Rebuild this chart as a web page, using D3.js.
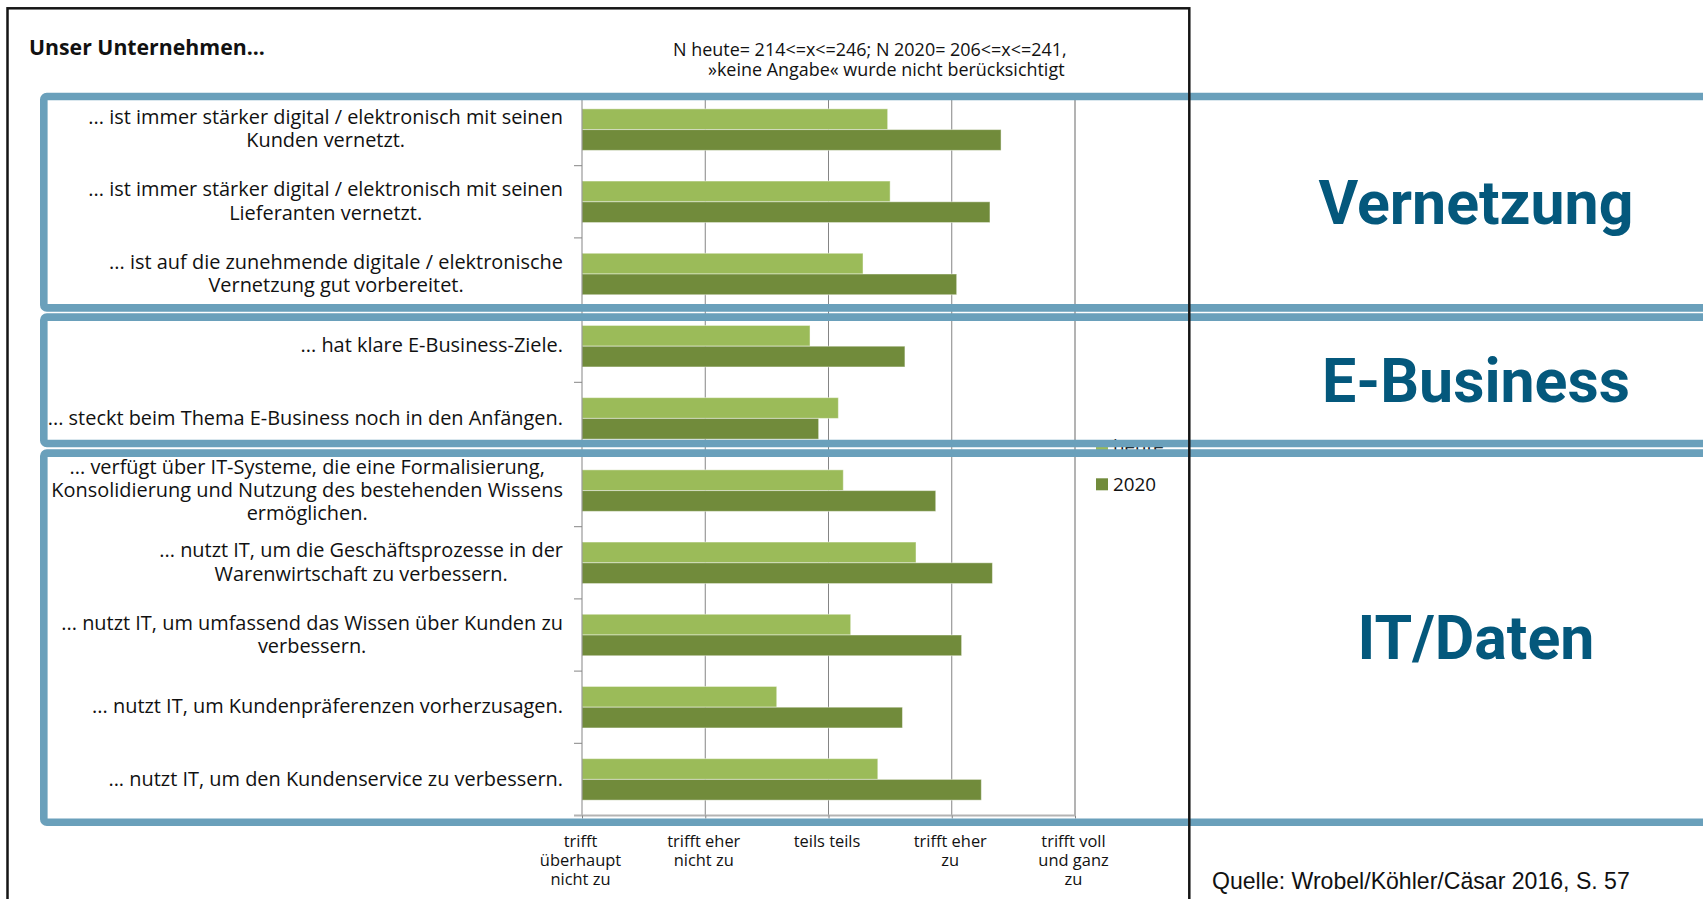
<!DOCTYPE html>
<html>
<head>
<meta charset="utf-8">
<script src="https://cdn.jsdelivr.net/npm/d3@7"></script>
<style>
  html, body { margin: 0; padding: 0; background: #fff; overflow: hidden; }
  svg { display: block; }
</style>
</head>
<body>
<svg id="chart" width="1703" height="899"></svg>
<script>
// statements (one per row, line breaks as in the original)
const statements = [
  '... ist immer stärker digital / elektronisch mit seinen\nKunden vernetzt.',
  '... ist immer stärker digital / elektronisch mit seinen\nLieferanten vernetzt.',
  '... ist auf die zunehmende digitale / elektronische\nVernetzung gut vorbereitet.',
  '... hat klare E-Business-Ziele.',
  '... steckt beim Thema E-Business noch in den Anfängen.',
  '... verfügt über IT-Systeme, die eine Formalisierung,\nKonsolidierung und Nutzung des bestehenden Wissens\nermöglichen.',
  '... nutzt IT, um die Geschäftsprozesse in der\nWarenwirtschaft zu verbessern.',
  '... nutzt IT, um umfassend das Wissen über Kunden zu\nverbessern.',
  '... nutzt IT, um Kundenpräferenzen vorherzusagen.',
  '... nutzt IT, um den Kundenservice zu verbessern.'
]
const valuesHeute = [3.48, 3.50, 3.28, 2.85, 3.08, 3.12, 3.71, 3.18, 2.58, 3.40]
const values2020 = [4.40, 4.31, 4.04, 3.62, 2.92, 3.87, 4.33, 4.08, 3.60, 4.24]
const seriesNames = ['heute', '2020']
const seriesColors = ['#9bbb59', '#718b3b']
const scaleValues = [1, 2, 3, 4, 5]
const scaleLabels = [
  'trifft\nüberhaupt\nnicht zu',
  'trifft eher\nnicht zu',
  'teils teils',
  'trifft eher\nzu',
  'trifft voll\nund ganz\nzu'
]
const groupNames = ['Vernetzung', 'E-Business', 'IT/Daten']
const title = 'Unser Unternehmen...'
const noteLines = ['N heute= 214<=x<=246; N 2020= 206<=x<=241,', '»keine Angabe« wurde nicht berücksichtigt']
const source = 'Quelle: Wrobel/Köhler/Cäsar 2016, S. 57'

const svg = d3.select('#chart')
const LABEL_FONT = '"Open Sans", "Noto Sans", sans-serif'
const BIG_FONT = 'Roboto, "Open Sans", sans-serif'

// measure helper, used to pick font sizes that match the original text widths
const probe = svg.append('text').attr('x', -9999).attr('y', -9999)
function fitSize (str, family, weight, target) {
  probe.style('font-family', family).style('font-weight', weight).style('font-size', '40px').text(str)
  return 40 * target / probe.node().getComputedTextLength()
}

let rows = statements.map(function (s, i) {
  return { label: s, heute: valuesHeute[i], y2020: values2020[i] }
})

let x = d3.scaleLinear().domain([1, 5]).range([582, 1075])
let y = d3.scaleBand()
  .domain(d3.range(rows.length))
  .range([93.5, 815.5])
  .paddingInner(0.425)
  .paddingOuter(0.2125)
let ySub = d3.scaleBand().domain(seriesNames).range([0, y.bandwidth()])
let plotTop = 93.5
let plotBottom = 815.5
let half = (y.step() - y.bandwidth()) / 2

// vertical gridlines
svg.append('g').selectAll('line')
  .data(scaleValues.slice(1))
  .enter().append('line')
  .attr('x1', function (d) { return x(d) })
  .attr('x2', function (d) { return x(d) })
  .attr('y1', plotTop)
  .attr('y2', plotBottom)
  .attr('stroke', function (d) { return d === 5 ? '#b3b3b3' : '#858585' })
  .attr('stroke-width', function (d) { return d === 5 ? 2 : 1 })

// bars
let rowG = svg.append('g').selectAll('g')
  .data(rows)
  .enter().append('g')
  .attr('transform', function (d, i) { return 'translate(0,' + y(i) + ')' })
rowG.selectAll('rect')
  .data(function (d) { return [d.heute, d.y2020] })
  .enter().append('rect')
  .attr('x', x(1))
  .attr('y', function (d, j) { return ySub(seriesNames[j]) })
  .attr('width', function (d) { return x(d) - x(1) })
  .attr('height', ySub.bandwidth())
  .attr('fill', function (d, j) { return seriesColors[j] })
  .attr('stroke', 'rgba(255,255,255,0.45)')
  .attr('stroke-width', 1)

// left axis with ticks between categories
let left = svg.append('g')
left.append('line')
  .attr('x1', x(1)).attr('x2', x(1))
  .attr('y1', plotTop).attr('y2', plotBottom)
  .attr('stroke', '#858585')
left.selectAll('.tick')
  .data(d3.range(rows.length + 1))
  .enter().append('line')
  .attr('x1', x(1) - 8).attr('x2', x(1))
  .attr('y1', function (i) { return i < rows.length ? y(i) - half : y(rows.length - 1) + y.bandwidth() + half })
  .attr('y2', function (i) { return i < rows.length ? y(i) - half : y(rows.length - 1) + y.bandwidth() + half })
  .attr('stroke', '#858585')

// bottom axis
let xAxis = d3.axisBottom(x).tickValues(scaleValues).tickSize(3).tickSizeOuter(0).tickFormat('')
let bottom = svg.append('g')
  .attr('transform', 'translate(0,' + plotBottom + ')')
  .call(xAxis)
bottom.select('.domain').attr('stroke', '#b3b3b3').attr('stroke-width', 2)
  .attr('d', 'M' + (x(1) - 8) + ',0H' + x(5))
bottom.selectAll('.tick line').attr('stroke', '#858585')

// bottom axis labels
let axisSize = (fitSize('teils teils', LABEL_FONT, 400, 66) + fitSize('trifft eher', LABEL_FONT, 400, 74)) / 2
svg.append('g').selectAll('text')
  .data(scaleLabels)
  .enter().append('text')
  .attr('text-anchor', 'middle')
  .style('font-family', LABEL_FONT)
  .style('font-size', axisSize + 'px')
  .attr('fill', '#111')
  .each(function (d, i) {
    let t = d3.select(this)
    d.split('\n').forEach(function (line, k) {
      t.append('tspan').attr('x', x(scaleValues[i]) - 1.5).attr('y', 846.7 + k * 19.2).text(line)
    })
  })

// category labels: lines centred on each other, block right-aligned
let labelSize = (fitSize('Konsolidierung und Nutzung des bestehenden Wissens', LABEL_FONT, 400, 511) +
  fitSize('... ist immer stärker digital / elektronisch mit seinen', LABEL_FONT, 400, 476)) / 2
let lineGap = 23.2
svg.append('g').selectAll('text')
  .data(rows)
  .enter().append('text')
  .style('font-family', LABEL_FONT)
  .style('font-size', labelSize + 'px')
  .attr('text-anchor', 'middle')
  .attr('fill', '#111')
  .each(function (d, i) {
    let lines = d.label.split('\n')
    let maxW = d3.max(lines, function (l) {
      probe.style('font-family', LABEL_FONT).style('font-weight', 400).style('font-size', labelSize + 'px').text(l)
      return probe.node().getComputedTextLength()
    })
    let cx = 563 - maxW / 2
    let cy = y(i) + y.bandwidth() / 2
    let first = cy - (lines.length - 1) / 2 * lineGap + 0.31 * labelSize
    let t = d3.select(this)
    lines.forEach(function (l, k) {
      t.append('tspan').attr('x', cx).attr('y', first + k * lineGap).text(l)
    })
  })

// title and note
svg.append('text')
  .attr('x', 29).attr('y', 55.4)
  .style('font-family', LABEL_FONT)
  .style('font-weight', 700)
  .style('font-size', fitSize(title, LABEL_FONT, 700, 236) + 'px')
  .attr('fill', '#111')
  .text(title)
let noteSize = fitSize(noteLines[0], LABEL_FONT, 400, 394)
svg.append('g').selectAll('text')
  .data(noteLines)
  .enter().append('text')
  .attr('x', function (d, i) { return i === 0 ? 673 : 708 })
  .attr('y', function (d, i) { return i === 0 ? 56.3 : 76 })
  .style('font-family', LABEL_FONT)
  .style('font-size', noteSize + 'px')
  .attr('fill', '#111')
  .text(function (d) { return d })

// legend
let legendSize = fitSize('2020', LABEL_FONT, 400, 43)
let legend = svg.append('g').selectAll('g')
  .data(seriesNames)
  .enter().append('g')
  .attr('transform', function (d, i) { return 'translate(1096,' + (440 + i * 38.3) + ')' })
legend.append('rect').attr('width', 12).attr('height', 12)
  .attr('fill', function (d, i) { return seriesColors[i] })
legend.append('text').attr('x', 17).attr('y', 12.5)
  .style('font-family', LABEL_FONT)
  .style('font-size', legendSize + 'px')
  .attr('fill', '#111')
  .text(function (d) { return d })

// highlight boxes around the three topic groups
let boxes = [[92.7, 311.7], [313.3, 447.3], [449.3, 826]]
let sw = 7.6
svg.append('g').selectAll('rect')
  .data(boxes)
  .enter().append('rect')
  .attr('x', 40 + sw / 2)
  .attr('y', function (d) { return d[0] + sw / 2 })
  .attr('width', 1740)
  .attr('height', function (d) { return d[1] - d[0] - sw })
  .attr('rx', 3)
  .attr('fill', 'none')
  .attr('stroke', '#6aa0bb')
  .attr('stroke-width', sw)

// outer frame of the original chart
svg.append('rect')
  .attr('x', 7.5).attr('y', 8.3)
  .attr('width', 1181.8).attr('height', 960)
  .attr('fill', 'none')
  .attr('stroke', '#151515')
  .attr('stroke-width', 2.5)

// group names
let bigSize = fitSize('Vernetzung', BIG_FONT, 700, 315)
svg.append('g').selectAll('text')
  .data(groupNames)
  .enter().append('text')
  .attr('x', 1476)
  .attr('y', function (d, i) { return (boxes[i][0] + boxes[i][1]) / 2 + 0.711 * bigSize / 2 })
  .attr('text-anchor', 'middle')
  .style('font-family', BIG_FONT)
  .style('font-weight', 700)
  .style('font-size', bigSize + 'px')
  .attr('fill', '#04587c')
  .text(function (d) { return d })

// source
svg.append('text')
  .attr('x', 1212).attr('y', 889)
  .style('font-family', '"Liberation Sans", Arial, sans-serif')
  .style('font-size', fitSize(source, '"Liberation Sans", Arial, sans-serif', 400, 418) + 'px')
  .attr('fill', '#111')
  .text(source)

probe.remove()
</script>
</body>
</html>
